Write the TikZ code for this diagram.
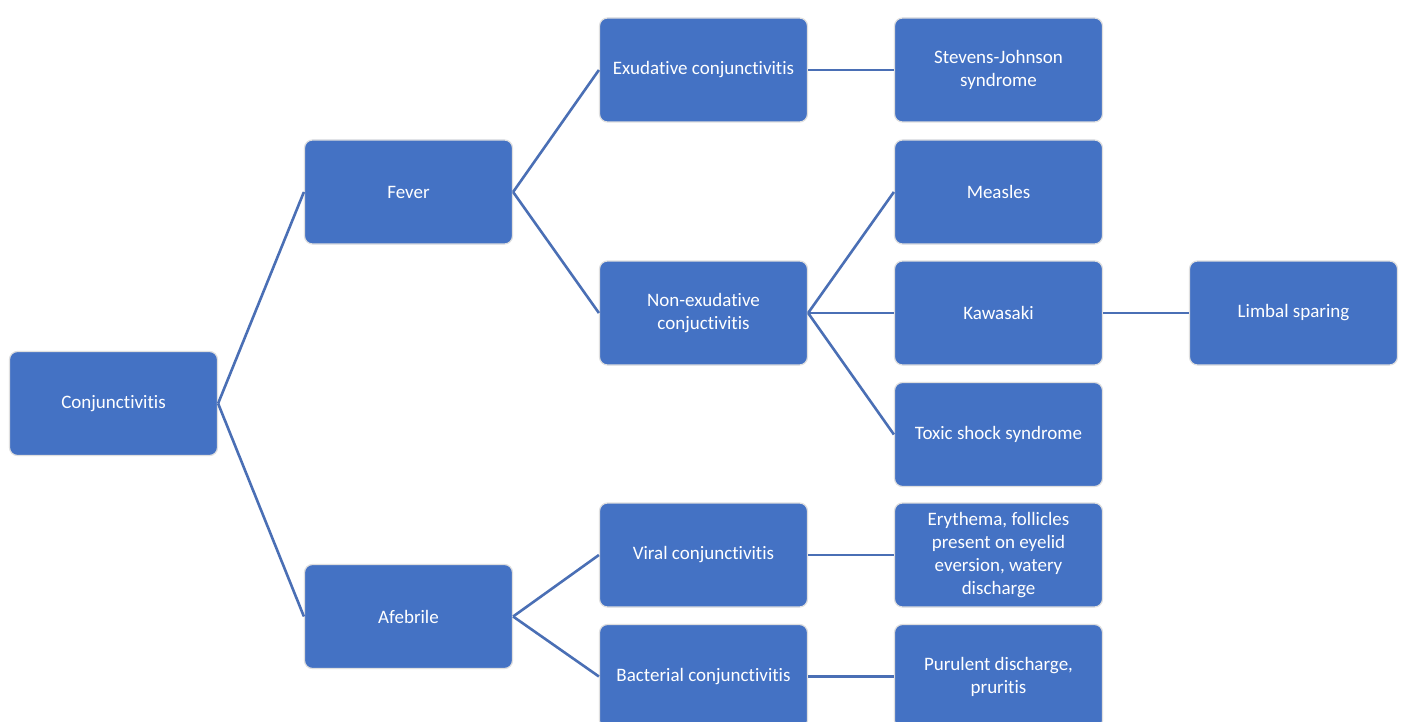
\documentclass[tikz,border=0pt]{standalone}
\usepackage{fontspec}
\setmainfont{Carlito}[Ligatures=NoCommon]
\definecolor{boxblue}{HTML}{4472C4}
\definecolor{lineblue}{HTML}{4A6FB5}
\begin{document}
\begin{tikzpicture}[x=1pt,y=1pt,
  box/.style={rectangle, rounded corners=8pt, fill=boxblue, draw=gray!25, line width=1.2pt,
    minimum width=208pt, minimum height=104pt, text=white, align=center,
    font=\fontsize{19}{23}\selectfont, inner sep=2pt},
  link/.style={draw=lineblue, line width=2.6pt}]
\useasboundingbox (0,0) rectangle (1402,-722);
\clip (0,0) rectangle (1402,-722);
\fill[white] (0,0) rectangle (1402,-722);
\node[box] (conj) at (113.5,-403.5) {Conjunctivitis};
\node[box] (fever) at (408.5,-192) {Fever};
\node[box] (afeb) at (408.5,-616.5) {Afebrile};
\node[box] (exud) at (703.5,-70) {Exudative conjunctivitis};
\node[box] (nonex) at (703.5,-313) {Non-exudative\\conjuctivitis};
\node[box] (viral) at (703.5,-555) {Viral conjunctivitis};
\node[box] (bact) at (703.5,-676.5) {Bacterial conjunctivitis};
\node[box] (sjs) at (998.5,-70) {Stevens-Johnson\\syndrome};
\node[box] (meas) at (998.5,-192) {Measles};
\node[box] (kawa) at (998.5,-313) {Kawasaki};
\node[box] (toxic) at (998.5,-434.5) {Toxic shock syndrome};
\node[box] (ery) at (998.5,-555) {Erythema, follicles\\present on eyelid\\eversion, watery\\discharge};
\node[box] (pur) at (998.5,-676.5) {Purulent discharge,\\pruritis};
\node[box] (limb) at (1293.5,-313) {Limbal sparing};
\draw[link] (conj.east) -- (fever.west);
\draw[link] (conj.east) -- (afeb.west);
\draw[link] (fever.east) -- (exud.west);
\draw[link] (fever.east) -- (nonex.west);
\draw[link] (exud.east) -- (sjs.west);
\draw[link] (nonex.east) -- (meas.west);
\draw[link] (nonex.east) -- (kawa.west);
\draw[link] (nonex.east) -- (toxic.west);
\draw[link] (kawa.east) -- (limb.west);
\draw[link] (afeb.east) -- (viral.west);
\draw[link] (afeb.east) -- (bact.west);
\draw[link] (viral.east) -- (ery.west);
\draw[link] (bact.east) -- (pur.west);
\end{tikzpicture}
\end{document}
